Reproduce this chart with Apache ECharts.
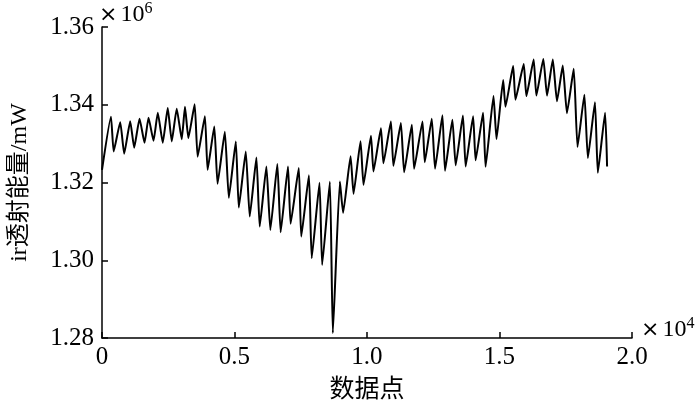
<!DOCTYPE html>
<html>
<head>
<meta charset="utf-8">
<script src="https://cdn.jsdelivr.net/npm/echarts@6/dist/echarts.min.js"></script>
<style>
html,body{margin:0;padding:0;background:#fff;}
#chart{width:700px;height:411px;}
</style>
</head>
<body>
<div id="chart"></div>
<script>
// Data point index (x) and ir transmitted power in mW (y), read at peaks/troughs
var sampleIdx = [0,338,440,688,838,1064,1214,1417,1605,1756,1944,2105,2293,2481,2632,2820,3008,3132,3259,3496,3609,3883,3985,4237,4361,4635,4786,5049,5162,5425,5575,5827,5951,6203,6353,6617,6741,7019,7117,7425,7519,7808,7914,8207,8308,8598,8711,8977,9098,9380,9492,9756,9868,10150,10244,10526,10620,10902,10996,11278,11402,11692,11778,12094,12180,12444,12568,12846,12944,13222,13346,13620,13722,14004,14098,14380,14474,14774,14887,15139,15226,15515,15602,15914,16015,16289,16391,16654,16793,17011,17169,17387,17545,17801,17944,18203,18335,18602,18711,18985,19060];
var irPower = [1323270,1336930,1327990,1335520,1327400,1335770,1328940,1336420,1330230,1336680,1330750,1337960,1330230,1339180,1330570,1339000,1331130,1339510,1331440,1340150,1326620,1337060,1323270,1334430,1319670,1333070,1316060,1330570,1313560,1327990,1311240,1326440,1308660,1324120,1307810,1324740,1307220,1324120,1309360,1323710,1306080,1321860,1300520,1319920,1298790,1320180,1281260,1320260,1312190,1326750,1317090,1330620,1319410,1332040,1322840,1333970,1324950,1335720,1324300,1335310,1322630,1334870,1323530,1335720,1325210,1336420,1323530,1337270,1323020,1336160,1324430,1337240,1324120,1337060,1325720,1337960,1324050,1342220,1331190,1346340,1339510,1349950,1341310,1350460,1342220,1351620,1342350,1351800,1342350,1351620,1340880,1350080,1337840,1349230,1329120,1342600,1326290,1340670,1322500,1337960,1324120];
var xTicks = [0, 5000, 10000, 15000, 20000];
var yTicks = [1280000, 1300000, 1320000, 1340000, 1360000];

var serif = "'Liberation Serif','Times New Roman','Noto Sans CJK SC',serif";
var pts = sampleIdx.map(function(x, i){ return [x, irPower[i]]; });

var richPow = {
  x: {fontSize: 22, fontFamily: 'DejaVu Sans', padding: [0, 3, 0, 0]},
  s: {fontSize: 16, fontFamily: serif, verticalAlign: 'top', padding: [0, 0, 12, 0]}
};

var chart = echarts.init(document.getElementById('chart'));
chart.setOption({
  animation: false,
  backgroundColor: '#fff',
  grid: {left: 100, right: 68, top: 27, bottom: 73, containLabel: false},
  xAxis: {
    type: 'value', min: xTicks[0], max: xTicks[xTicks.length-1], interval: 5000,
    name: '数据点', nameLocation: 'middle', nameGap: 40,
    nameTextStyle: {fontFamily: serif, fontSize: 25, color: '#000'},
    axisLine: {show: true, lineStyle: {color: '#000', width: 1.5}},
    axisTick: {show: true, inside: true, length: 6, lineStyle: {color: '#000', width: 1.5}},
    axisLabel: {fontFamily: serif, fontSize: 25, color: '#000', margin: 7,
      formatter: function(v){ return v === 0 ? '0' : (v/10000).toFixed(1); }},
    splitLine: {show: false}
  },
  yAxis: {
    type: 'value', min: yTicks[0], max: yTicks[yTicks.length-1], interval: 20000,
    name: 'ir透射能量/mW', nameLocation: 'middle', nameGap: 70, nameRotate: 90,
    nameTextStyle: {fontFamily: serif, fontSize: 24, color: '#000'},
    axisLine: {show: true, lineStyle: {color: '#000', width: 1.5}},
    axisTick: {show: true, inside: true, length: 6, lineStyle: {color: '#000', width: 1.5}},
    axisLabel: {fontFamily: serif, fontSize: 25, color: '#000', margin: 8,
      formatter: function(v){ return (v/1000000).toFixed(2); }},
    splitLine: {show: false}
  },
  graphic: [
    {type: 'text', left: 99, top: 1, style: {
      text: '{x|×}10{s|6}', font: '24px ' + serif, fill: '#000', rich: richPow
    }},
    {type: 'text', left: 641, top: 316, style: {
      text: '{x|×}10{s|4}', font: '24px ' + serif, fill: '#000', rich: richPow
    }}
  ],
  series: [{
    type: 'line', data: pts, showSymbol: false, smooth: 0.15,
    lineStyle: {color: '#000', width: 2}
  }]
});
</script>
</body>
</html>
